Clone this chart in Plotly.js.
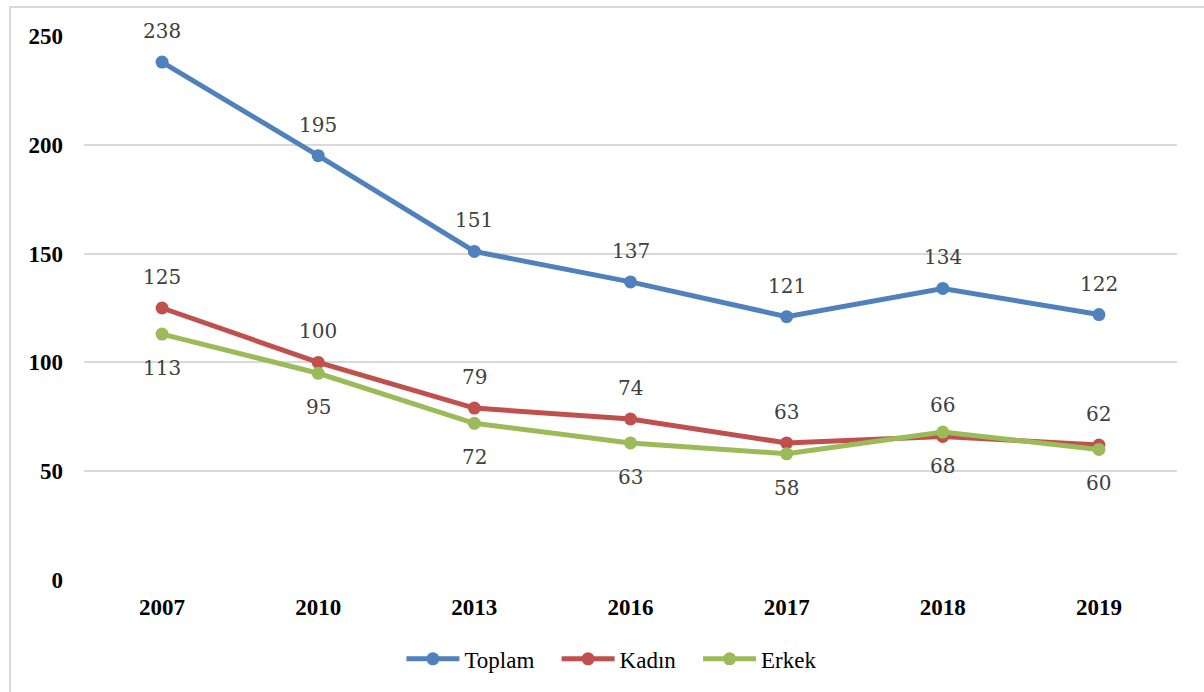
<!DOCTYPE html>
<html>
<head>
<meta charset="utf-8">
<script src="https://cdn.plot.ly/plotly-3.0.1.min.js"></script>
<style>
html,body{margin:0;padding:0;background:#fff;overflow:hidden;}
#wrap{position:relative;width:1204px;height:692px;}
#frame{position:absolute;left:9px;top:6px;width:1300px;height:800px;border:2px solid #d9d9d9;box-sizing:border-box;pointer-events:none;}
#chart{position:absolute;left:0;top:0;width:1204px;height:692px;}
</style>
</head>
<body>
<div id="wrap"><div id="chart"></div><div id="frame"></div></div>
<script>
const years = ['2007','2010','2013','2016','2017','2018','2019'];
const toplam = [238,195,151,137,121,134,122];
const kadin = [125,100,79,74,63,66,62];
const erkek = [113,95,72,63,58,68,60];
const yTicks = [0,50,100,150,200,250];
const seriesNames = ['Toplam','Kadın','Erkek'];

const colors = ['#4F81BD','#C0504D','#9BBB59'];
const pad = '\u00a0\u00a0\u00a0';

function trace(name, y, color){
  return {type:'scatter', mode:'lines+markers', name:name, x:years, y:y,
    line:{color:color, width:5}, marker:{color:color, size:13},
    cliponaxis:false, hoverinfo:'skip'};
}
const data = [
  trace(seriesNames[0] + pad, toplam, colors[0]),
  trace(seriesNames[1] + pad, kadin, colors[1]),
  trace(seriesNames[2], erkek, colors[2])
];

const serif = "'Liberation Serif', 'Times New Roman', serif";
const labelFont = {family:"'DejaVu Serif', serif", size:20, color:'#404040'};
const annotations = [];
function addLabels(y, shift){
  y.forEach((v,i)=>annotations.push({x:i, y:v, xref:'x', yref:'y', text:String(v),
    showarrow:false, yshift:shift, font:labelFont}));
}
addLabels(toplam, 31);
addLabels(kadin, 31);
addLabels(erkek, -34);

const layout = {
  width:1204, height:692,
  margin:{l:84, r:27, t:36, b:112},
  paper_bgcolor:'#ffffff', plot_bgcolor:'#ffffff',
  font:{family:serif},
  showlegend:true,
  legend:{orientation:'h', x:0.483, xanchor:'center', y:-0.145, yanchor:'middle',
    font:{family:serif, size:23, color:'#000'}, itemwidth:53, traceorder:'normal'},
  xaxis:{type:'category', range:[-0.5,6.5], showgrid:false, zeroline:false, showline:false,
    ticks:'', tickfont:{family:serif, size:23, color:'#000', weight:'bold'},
    ticklabelstandoff:11, fixedrange:true},
  yaxis:{range:[0,250], tickvals:yTicks, ticktext:yTicks.map(String), showgrid:true,
    gridcolor:'#d9d9d9', gridwidth:2, zeroline:false, showline:false, ticks:'',
    tickfont:{family:serif, size:23, color:'#000', weight:'bold'},
    ticklabelstandoff:20, fixedrange:true},
  annotations:annotations
};
Plotly.newPlot('chart', data, layout, {displayModeBar:false, staticPlot:true});
</script>
</body>
</html>
